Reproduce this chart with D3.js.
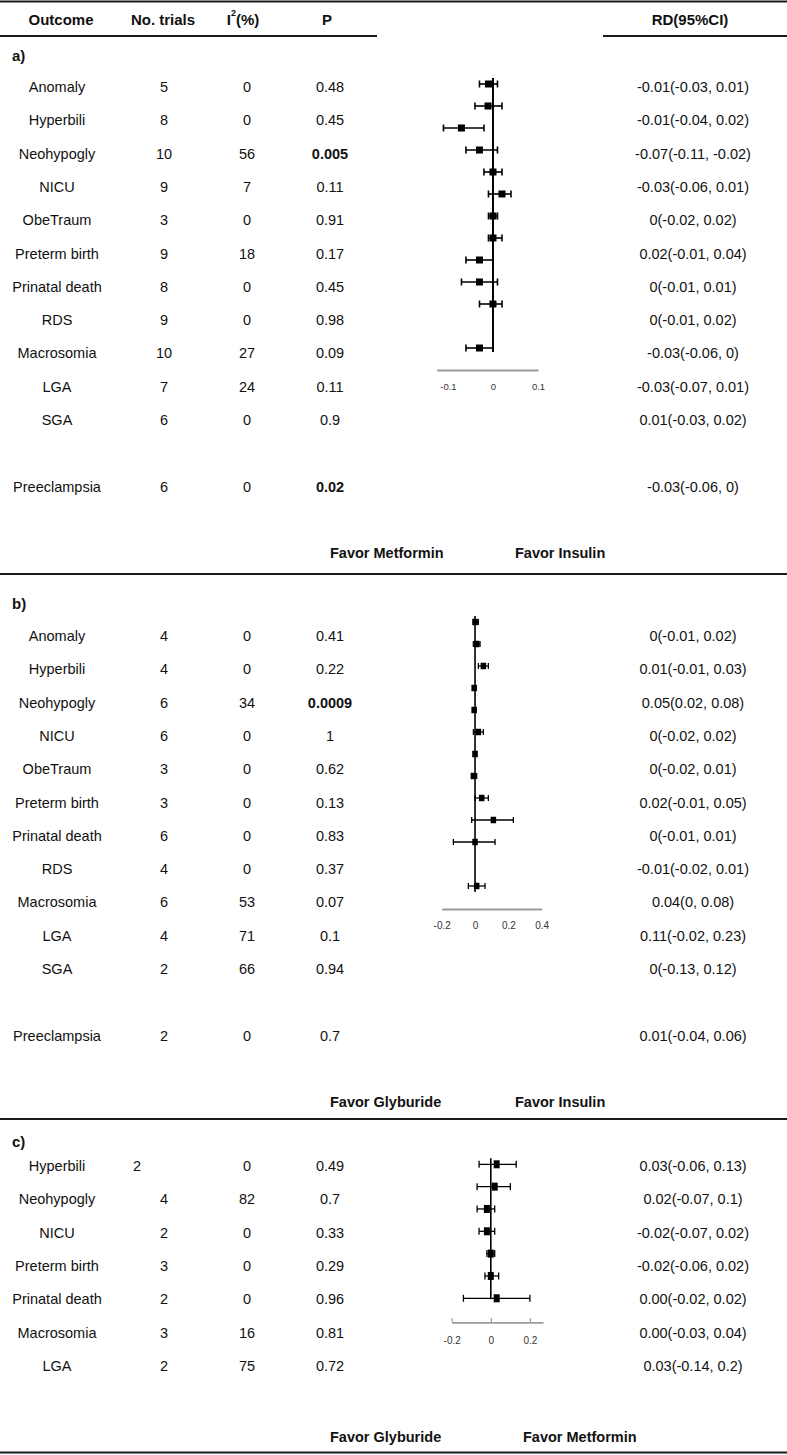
<!DOCTYPE html>
<html><head><meta charset="utf-8">
<script src="https://cdn.jsdelivr.net/npm/d3@7"></script>
<style>body{margin:0;background:#fff} svg{display:block}</style>
</head><body>
<svg id="c" width="787" height="1455"></svg>
<script>
// ---------- DATA ----------
const outcomesA = ["Anomaly","Hyperbili","Neohypogly","NICU","ObeTraum","Preterm birth","Prinatal death","RDS","Macrosomia","LGA","SGA","Preeclampsia"];
const trialsA = [5,8,10,9,3,9,8,9,10,7,6,6];
const i2A = [0,0,56,7,0,18,0,0,27,24,0,0];
const pA = ["0.48","0.45","0.005","0.11","0.91","0.17","0.45","0.98","0.09","0.11","0.9","0.02"];
const pBoldA = [0,0,1,0,0,0,0,0,0,0,0,1];
const rdA = ["-0.01(-0.03, 0.01)","-0.01(-0.04, 0.02)","-0.07(-0.11, -0.02)","-0.03(-0.06, 0.01)","0(-0.02, 0.02)","0.02(-0.01, 0.04)","0(-0.01, 0.01)","0(-0.01, 0.02)","-0.03(-0.06, 0)","-0.03(-0.07, 0.01)","0.01(-0.03, 0.02)","-0.03(-0.06, 0)"];
const estA = [-0.01,-0.011,-0.07,-0.03,0,0.02,0,0,-0.03,-0.03,0,-0.03];
const loA  = [-0.03,-0.04,-0.11,-0.06,-0.02,-0.01,-0.01,-0.01,-0.06,-0.07,-0.03,-0.06];
const hiA  = [0.01,0.02,-0.02,0.01,0.02,0.04,0.01,0.02,0,0.01,0.02,0];
const ticksA = [-0.1,0,0.1];

const outcomesB = ["Anomaly","Hyperbili","Neohypogly","NICU","ObeTraum","Preterm birth","Prinatal death","RDS","Macrosomia","LGA","SGA","Preeclampsia"];
const trialsB = [4,4,6,6,3,3,6,4,6,4,2,2];
const i2B = [0,0,34,0,0,0,0,0,53,71,66,0];
const pB = ["0.41","0.22","0.0009","1","0.62","0.13","0.83","0.37","0.07","0.1","0.94","0.7"];
const pBoldB = [0,0,1,0,0,0,0,0,0,0,0,0];
const rdB = ["0(-0.01, 0.02)","0.01(-0.01, 0.03)","0.05(0.02, 0.08)","0(-0.02, 0.02)","0(-0.02, 0.01)","0.02(-0.01, 0.05)","0(-0.01, 0.01)","-0.01(-0.02, 0.01)","0.04(0, 0.08)","0.11(-0.02, 0.23)","0(-0.13, 0.12)","0.01(-0.04, 0.06)"];
const estB = [0,0.01,0.05,-0.005,-0.005,0.02,0,-0.01,0.04,0.11,0,0.01];
const loB  = [-0.01,-0.01,0.02,-0.015,-0.015,-0.01,-0.01,-0.02,0,-0.02,-0.13,-0.04];
const hiB  = [0.02,0.03,0.08,0.005,0.005,0.05,0.01,0.01,0.08,0.23,0.12,0.06];
const ticksB = [-0.2,0,0.2,0.4];

const outcomesC = ["Hyperbili","Neohypogly","NICU","Preterm birth","Prinatal death","Macrosomia","LGA"];
const trialsC = [2,4,2,3,2,3,2];
const i2C = [0,82,0,0,0,16,75];
const pC = ["0.49","0.7","0.33","0.29","0.96","0.81","0.72"];
const pBoldC = [0,0,0,0,0,0,0];
const rdC = ["0.03(-0.06, 0.13)","0.02(-0.07, 0.1)","-0.02(-0.07, 0.02)","-0.02(-0.06, 0.02)","0.00(-0.02, 0.02)","0.00(-0.03, 0.04)","0.03(-0.14, 0.2)"];
const estC = [0.03,0.02,-0.02,-0.02,0,0,0.03];
const loC  = [-0.06,-0.07,-0.07,-0.06,-0.02,-0.03,-0.14];
const hiC  = [0.13,0.10,0.02,0.02,0.02,0.04,0.2];
const ticksC = [-0.2,0,0.2];

const headers = ["Outcome","No. trials","I2(%)","P","RD(95%CI)"];
const favorA = ["Favor Metformin","Favor Insulin"];
const favorB = ["Favor Glyburide","Favor Insulin"];
const favorC = ["Favor Glyburide","Favor Metformin"];
const panelLabels = ["a)","b)","c)"];

// ---------- DRAW ----------
const svg = d3.select("#c");
const FONT = "'Liberation Sans',Arial,sans-serif";
const ink = "#111";

function hline(y, x1, x2, w) {
  svg.append("line").attr("x1", x1).attr("x2", x2).attr("y1", y).attr("y2", y)
    .attr("stroke", "#1a1a1a").attr("stroke-width", w || 2);
}
function txt(x, y, s, opt) {
  opt = opt || {};
  return svg.append("text").attr("x", x).attr("y", y).text(s)
    .attr("font-family", FONT).attr("font-size", opt.size || 14.5)
    .attr("font-weight", opt.bold ? "bold" : "normal")
    .attr("text-anchor", opt.anchor || "middle")
    .attr("dominant-baseline", "central").attr("fill", ink);
}

// header
hline(1.5, 0, 787, 2);
const hx = [61, 163, 243, 327, 690];
headers.forEach((h, i) => {
  if (h === "I2(%)") {
    const t = txt(hx[i], 19, "", {bold: true, size: 15});
    t.append("tspan").text("I");
    t.append("tspan").text("2").attr("font-size", 9).attr("dy", -6);
    t.append("tspan").text("(%)").attr("dy", 6);
  } else txt(hx[i], 19, h, {bold: true, size: 15});
});
hline(36, 0, 377, 2);
hline(36, 603, 787, 2);

const colX = {outcome: 57, trials: 164, i2: 247, p: 330, rd: 693};

function panel(cfg) {
  const n = cfg.outcomes.length;
  const slots = cfg.slots;
  txt(12, cfg.labelY, cfg.label, {bold: true, anchor: "start", size: 15});
  const yText = d3.scaleLinear().domain([0, 1]).range([cfg.textY0, cfg.textY0 + cfg.textStep]);
  const yF = d3.scaleLinear().domain([0, 1]).range([cfg.fY0, cfg.fY0 + cfg.fStep]);
  const x = d3.scaleLinear().domain(cfg.domain).range(cfg.range);

  for (let i = 0; i < n; i++) {
    const y = yText(slots[i]);
    txt(colX.outcome, y, cfg.outcomes[i]);
    const tx = (cfg.trialX && cfg.trialX[i] != null) ? cfg.trialX[i] : colX.trials;
    txt(tx, y, cfg.trials[i]);
    txt(colX.i2, y, cfg.i2[i]);
    txt(colX.p, y, cfg.p[i], {bold: !!cfg.pBold[i]});
    txt(colX.rd, y, cfg.rd[i]);
  }
  // forest
  const g = svg.append("g");
  const lastY = yF(slots[n - 1]);
  g.append("line").attr("x1", x(0)).attr("x2", x(0))
    .attr("y1", yF(slots[0]) - cfg.lineTop).attr("y2", lastY + cfg.lineBot)
    .attr("stroke", "#000").attr("stroke-width", cfg.vw);
  for (let i = 0; i < n; i++) {
    const y = yF(slots[i]);
    g.append("line").attr("x1", x(cfg.lo[i])).attr("x2", x(cfg.hi[i])).attr("y1", y).attr("y2", y)
      .attr("stroke", "#000").attr("stroke-width", cfg.ww);
    [cfg.lo[i], cfg.hi[i]].forEach(v => {
      g.append("line").attr("x1", x(v)).attr("x2", x(v)).attr("y1", y - cfg.cap).attr("y2", y + cfg.cap)
        .attr("stroke", "#000").attr("stroke-width", cfg.ww);
    });
    g.append("rect").attr("x", x(cfg.est[i]) - cfg.sqW / 2).attr("y", y - cfg.sqH / 2)
      .attr("width", cfg.sqW).attr("height", cfg.sqH).attr("fill", "#000");
  }
  // axis
  const ax = d3.axisBottom(x).tickValues(cfg.ticks).tickFormat(d => String(d)).tickSizeOuter(0)
    .tickSizeInner(cfg.tickIn).tickPadding(cfg.tickPad);
  const axg = svg.append("g").attr("transform", `translate(0,${cfg.axisY})`).call(ax);
  axg.select(".domain").attr("stroke", "#9a9a9a").attr("stroke-width", 1.8);
  axg.selectAll(".tick line").attr("stroke", "#9a9a9a").attr("stroke-width", 1.2);
  axg.selectAll(".tick text").attr("font-family", FONT).attr("font-size", cfg.tickFont).attr("fill", "#333")
    .attr("transform", "scale(0.85,1)").attr("x", function(d) { return 0; });
  // keep labels centered at tick after horizontal squeeze
  axg.selectAll(".tick text").attr("transform", null).attr("textLength", null);

  txt(330, cfg.favorY, cfg.favor[0], {bold: true, anchor: "start", size: 14.5});
  txt(cfg.favor2X, cfg.favorY, cfg.favor[1], {bold: true, anchor: "start", size: 14.5});
  hline(cfg.sepY, 0, 787, 2.2);
}

const slots12 = [0,1,2,3,4,5,6,7,8,9,10,12];
panel({label: panelLabels[0], labelY: 55, outcomes: outcomesA, trials: trialsA, i2: i2A, p: pA, pBold: pBoldA, rd: rdA,
  est: estA, lo: loA, hi: hiA, ticks: ticksA, slots: slots12,
  textY0: 87, textStep: 33.3, fY0: 84, fStep: 22,
  domain: [-0.125, 0.1], range: [436.7, 538], axisY: 370, tickIn: 0, tickPad: 13, tickFont: 9.5,
  vw: 2, ww: 1.6, cap: 3.5, sqW: 7, sqH: 7, lineTop: 6, lineBot: 4,
  favor: favorA, favorY: 553, favor2X: 515, sepY: 574});

panel({label: panelLabels[1], labelY: 603, outcomes: outcomesB, trials: trialsB, i2: i2B, p: pB, pBold: pBoldB, rd: rdB,
  est: estB, lo: loB, hi: hiB, ticks: ticksB, slots: slots12,
  textY0: 636, textStep: 33.3, fY0: 622, fStep: 22,
  domain: [-0.2, 0.4], range: [441.7, 541.7], axisY: 909, tickIn: 0, tickPad: 13, tickFont: 10,
  vw: 1.6, ww: 1.3, cap: 3, sqW: 5.5, sqH: 6.5, lineTop: 6, lineBot: 6,
  favor: favorB, favorY: 1102, favor2X: 515, sepY: 1119});

panel({label: panelLabels[2], labelY: 1141, outcomes: outcomesC, trials: trialsC, i2: i2C, p: pC, pBold: pBoldC, rd: rdC,
  est: estC, lo: loC, hi: hiC, ticks: ticksC, slots: [0,1,2,3,4,5,6], trialX: [137],
  textY0: 1166, textStep: 33.3, fY0: 1164.3, fStep: 22.33,
  domain: [-0.2, 0.267], range: [451.7, 543], axisY: 1322.3, tickIn: -4, tickPad: 15, tickFont: 10,
  vw: 1.6, ww: 1.3, cap: 3.5, sqW: 6, sqH: 8, lineTop: 6, lineBot: 1,
  favor: favorC, favorY: 1437, favor2X: 523, sepY: 1452.5});
</script>
</body></html>
